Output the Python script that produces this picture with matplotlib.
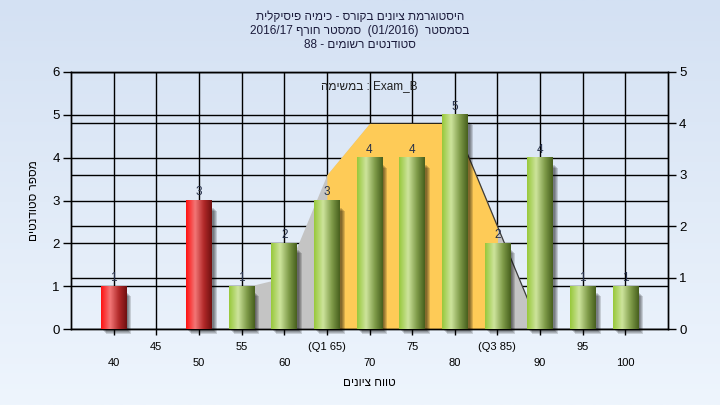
import numpy as np
import matplotlib
matplotlib.use("Agg")
import matplotlib.pyplot as plt
from matplotlib.colors import LinearSegmentedColormap
from matplotlib.patches import Rectangle
import matplotlib.transforms as mtransforms

plt.rcParams['font.family'] = ['Liberation Sans', 'DejaVu Sans']


def heb(s):
    # matplotlib has no bidi support: put Hebrew in visual order
    return s[::-1]


# grade bins and student counts
grades = [40, 45, 50, 55, 60, 65, 70, 75, 80, 85, 90, 95, 100]
counts = [1, 0, 3, 1, 2, 3, 4, 4, 5, 2, 4, 1, 1]
tick_labels = ['40', '45', '50', '55', '60', '(Q1 65)', '70', '75', '80',
               '(Q3 85)', '90', '95', '100']
pass_mark = 55

# distribution area (right axis)
curve_x = [55, 60, 65, 70, 75, 80, 85, 90]
curve_y = [0.8, 1, 3, 4, 4, 4, 2, 0]
q1, q3 = 65, 85

title_lines = [
    heb('היסטוגרמת ציונים בקורס - כימיה פיסיקלית'),
    '2016/17 ' + heb('סמסטר חורף') + '  (01/2016)  ' + heb('בסמסטר'),
    '88 - ' + heb('סטודנטים רשומים'),
]
legend_text = heb('במשימה') + ' : Exam_B'

fig = plt.figure(figsize=(7.2, 4.05), dpi=100)

# background gradient
bg = fig.add_axes([0, 0, 1, 1], zorder=-10)
grad = np.linspace(0, 1, 256).reshape(-1, 1)
bg_cmap = LinearSegmentedColormap.from_list('bg', ['#d4e1f3', '#eef5fd'])
bg.imshow(grad, aspect='auto', cmap=bg_cmap, extent=[0, 1, 0, 1], origin='upper')
bg.axis('off')

rect = [71 / 720, 1 - 329 / 405, (668 - 71) / 720, (329 - 72) / 405]
ax = fig.add_axes(rect)
ax2 = ax.twinx()
# area / grid layer below, bars above
ax.set_zorder(2)
ax2.set_zorder(1)
ax.patch.set_visible(False)
ax2.patch.set_facecolor('#b4b4b4')

ax.set_xlim(35, 105)
ax.set_ylim(0, 6)
ax2.set_ylim(0, 5)

# grid on the lower layer
ax2.set_axisbelow(True)
ax2.grid(axis='y', color='black', lw=1)
for g in grades:
    ax2.axvline(g, color='black', lw=1, zorder=0.5)
left_trans = mtransforms.blended_transform_factory(ax2.transAxes, ax.transData)
for v in range(1, 6):
    ax2.plot([0, 1], [v, v], color='black', lw=1, transform=left_trans, zorder=0.5)

# distribution area
cx = np.array(curve_x)
cy = np.array(curve_y)
ax2.fill_between(cx, cy, color='#c4c4c4', lw=0, zorder=1)
ax2.fill_between(cx, cy, where=(cx >= q1) & (cx <= q3), color='#fecb57', lw=0, zorder=1.1)
ax2.plot(cx[cx >= 80], cy[cx >= 80], color='#3c3c3c', lw=0.9, zorder=1.2)

# bars with cylinder shading and soft shadow
green = LinearSegmentedColormap.from_list(
    'g', [(0, '#98c83c'), (0.35, '#cde49c'), (0.7, '#7e9a48'), (1, '#48601e')])
red = LinearSegmentedColormap.from_list(
    'r', [(0, '#ff1212'), (0.35, '#f27676'), (0.7, '#b02828'), (1, '#701010')])
profile = np.linspace(0, 1, 64).reshape(1, -1)
width = 3.0
for g, c in zip(grades, counts):
    if c == 0:
        continue
    for i in range(4):
        tr = mtransforms.offset_copy(ax.transData, fig, x=2 + i, y=-(2 + i), units='dots')
        ax.add_patch(Rectangle((g - width / 2, 0), width, c - 0.12, transform=tr,
                               color='black', alpha=0.15, lw=0, zorder=2, clip_on=False))
    cmap = red if g < pass_mark else green
    ax.imshow(profile, aspect='auto', cmap=cmap, interpolation='bilinear',
              extent=[g - width / 2, g + width / 2, 0, c], zorder=3)
    ax.annotate(str(c), (g, c), xytext=(0, 1.5), textcoords='offset points',
                ha='center', va='bottom', fontsize=8.5, color='#26304a', zorder=4)

ax.set_xlim(35, 105)
ax.set_ylim(0, 6)

# axes styling
ax.set_xticks(grades)
ax.set_xticklabels([lab if i % 2 else '\n' + lab for i, lab in enumerate(tick_labels)],
                   fontsize=8)
for t in ax.get_xticklabels():
    t.set_linespacing(1.75)
ax.set_yticks(range(7))
ax2.set_yticks(range(6))
ax.tick_params(axis='y', labelsize=9.5, length=6, width=1, pad=2)
ax2.tick_params(axis='y', labelsize=9.5, length=6, width=1, pad=2)
ax.tick_params(axis='x', length=4, width=1, pad=5)
for a in (ax, ax2):
    for s in a.spines.values():
        s.set_color('black')
        s.set_linewidth(1)

ax.set_xlabel(heb('טווח ציונים'), fontsize=8.5, labelpad=7)
ax.set_ylabel(heb('מספר סטודנטים'), fontsize=8.5, labelpad=9)

ax.text(0.5, 0.945, legend_text, transform=ax.transAxes, ha='center', va='center',
        fontsize=8.5, color='#202020')

for i, line in enumerate(title_lines):
    fig.text(0.5, 1 - (17.5 + 13.5 * i) / 405, line, ha='center', va='center',
             fontsize=8.5, color='#1c1c3c')

fig.savefig('out.png', dpi=100)
